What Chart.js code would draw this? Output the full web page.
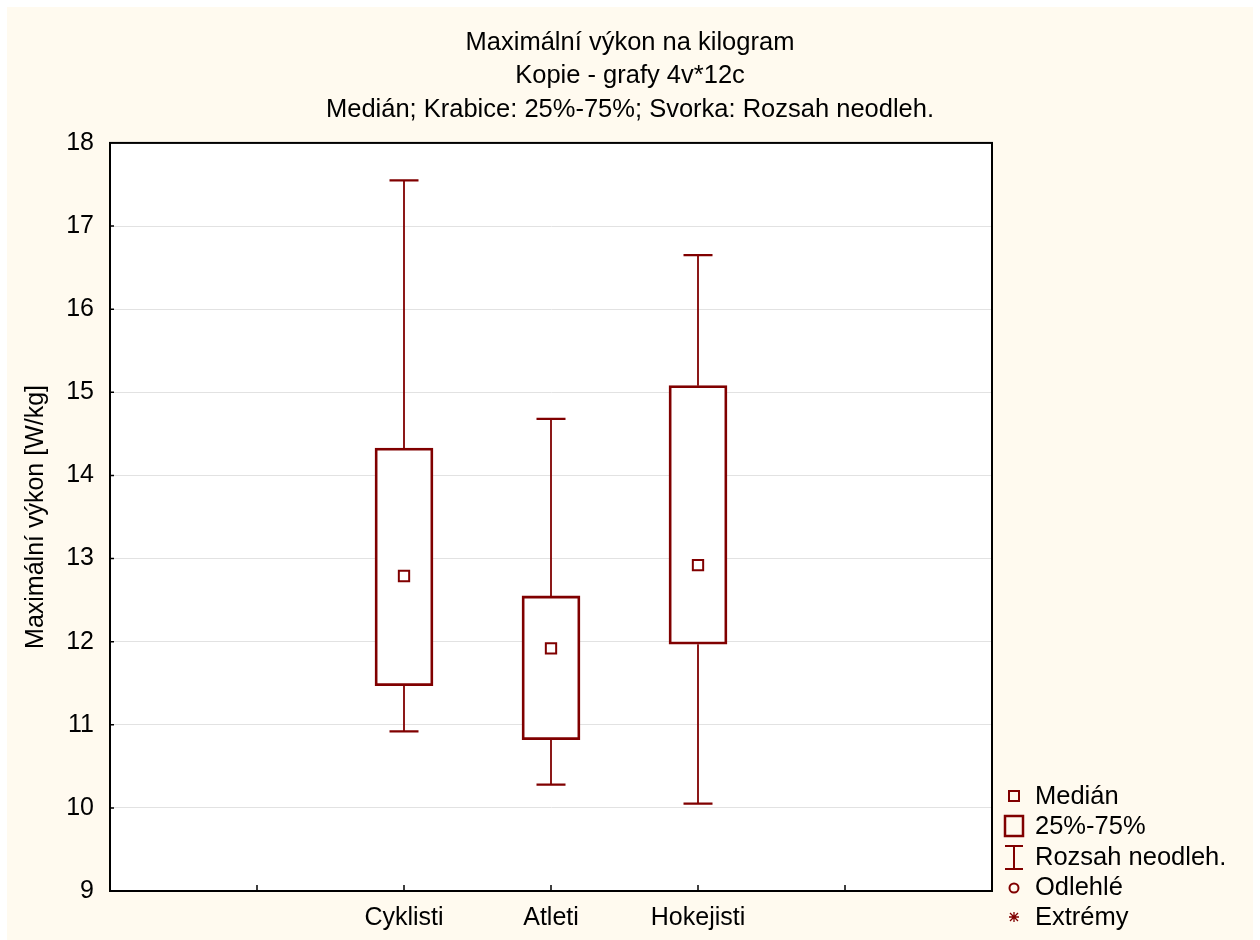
<!DOCTYPE html>
<html>
<head>
<meta charset="utf-8">
<script src="https://cdn.jsdelivr.net/npm/chart.js@4/dist/chart.umd.min.js"></script>
<style>
  html, body { margin: 0; padding: 0; background: #ffffff; }
  canvas { display: block; }
</style>
</head>
<body>
<canvas id="c" width="1260" height="940"></canvas>
<script>
// ---- data ----
const tickLabels = ['', '', 'Cyklisti', 'Atleti', 'Hokejisti', '', ''];
const categories = ['Cyklisti', 'Atleti', 'Hokejisti'];
const whiskerMin = [10.92, 10.28, 10.05];
const q1 = [11.47, 10.82, 11.97];
const median = [12.79, 11.92, 12.92];
const q3 = [14.33, 12.55, 15.08];
const whiskerMax = [17.55, 14.68, 16.65];
const titleLines = ['Maximální výkon na kilogram', 'Kopie - grafy 4v*12c', 'Medián; Krabice: 25%-75%; Svorka: Rozsah neodleh.'];
const yTitle = 'Maximální výkon [W/kg]';
const legendItems = ['Medián', '25%-75%', 'Rozsah neodleh.', 'Odlehlé', 'Extrémy'];

const DARK = '#800000';
const FONT = "'Liberation Sans', Arial, Helvetica, sans-serif";

function alignToLabels(arr) {
  return tickLabels.map(l => {
    const i = categories.indexOf(l);
    return i >= 0 ? arr[i] : null;
  });
}
const boxData = tickLabels.map(l => {
  const i = categories.indexOf(l);
  return i >= 0 ? [q1[i], q3[i]] : null;
});

const bgPlugin = {
  id: 'bg',
  beforeDraw(chart) {
    const ctx = chart.ctx, a = chart.chartArea;
    ctx.save();
    ctx.fillStyle = '#ffffff';
    ctx.fillRect(0, 0, chart.width, chart.height);
    ctx.fillStyle = '#fffaef';
    ctx.fillRect(7, 7, chart.width - 14, chart.height - 7);
    ctx.fillStyle = '#ffffff';
    ctx.fillRect(a.left, a.top, a.right - a.left, a.bottom - a.top);
    ctx.restore();
  }
};

const whiskerPlugin = {
  id: 'whiskers',
  beforeDatasetsDraw(chart) {
    const ctx = chart.ctx;
    const meta = chart.getDatasetMeta(0);
    const y = chart.scales.y;
    ctx.save();
    ctx.strokeStyle = DARK;
    tickLabels.forEach((l, idx) => {
      const i = categories.indexOf(l);
      if (i < 0) return;
      const el = meta.data[idx];
      const x = el.x;
      const half = 14.5;
      const yMin = y.getPixelForValue(whiskerMin[i]);
      const yQ1 = y.getPixelForValue(q1[i]);
      const yQ3 = y.getPixelForValue(q3[i]);
      const yMax = y.getPixelForValue(whiskerMax[i]);
      ctx.lineWidth = 1.8;
      ctx.beginPath();
      ctx.moveTo(x, yQ1); ctx.lineTo(x, yMin);
      ctx.moveTo(x, yQ3); ctx.lineTo(x, yMax);
      ctx.stroke();
      ctx.lineWidth = 2.2;
      ctx.beginPath();
      ctx.moveTo(x - half, yMin); ctx.lineTo(x + half, yMin);
      ctx.moveTo(x - half, yMax); ctx.lineTo(x + half, yMax);
      ctx.stroke();
    });
    ctx.restore();
  },
  afterDraw(chart) {
    const ctx = chart.ctx, a = chart.chartArea;
    const xs = chart.scales.x, ys = chart.scales.y;
    ctx.save();
    ctx.strokeStyle = '#000000';
    ctx.lineWidth = 2;
    ctx.strokeRect(a.left, a.top, a.right - a.left, a.bottom - a.top);
    ctx.lineWidth = 1.5;
    ctx.beginPath();
    for (let k = 1; k < tickLabels.length - 1; k++) {
      const px = xs.getPixelForValue(k);
      ctx.moveTo(px, a.bottom); ctx.lineTo(px, a.bottom - 6);
    }
    for (let v = ys.min + 1; v < ys.max; v++) {
      const py = ys.getPixelForValue(v);
      ctx.moveTo(a.left, py); ctx.lineTo(a.left + 4, py);
    }
    ctx.stroke();

    // legend
    const ix = 1014, tx = 1035;
    const rows = [796, 826, 857, 887, 917];
    ctx.strokeStyle = DARK;
    ctx.fillStyle = '#ffffff';
    ctx.lineWidth = 2;
    ctx.strokeRect(ix - 5, rows[0] - 5, 10, 10);
    ctx.lineWidth = 2.5;
    ctx.strokeRect(ix - 9, rows[1] - 10, 18, 20);
    ctx.lineWidth = 2;
    ctx.beginPath();
    ctx.moveTo(ix, rows[2] - 11); ctx.lineTo(ix, rows[2] + 12);
    ctx.moveTo(ix - 9, rows[2] - 11); ctx.lineTo(ix + 9, rows[2] - 11);
    ctx.moveTo(ix - 9, rows[2] + 12); ctx.lineTo(ix + 9, rows[2] + 12);
    ctx.stroke();
    ctx.beginPath();
    ctx.arc(ix, rows[3] + 1, 4.5, 0, Math.PI * 2);
    ctx.stroke();
    ctx.lineWidth = 1.3;
    ctx.beginPath();
    ctx.moveTo(ix - 5, rows[4]); ctx.lineTo(ix + 5, rows[4]);
    ctx.moveTo(ix - 4, rows[4] - 4); ctx.lineTo(ix + 4, rows[4] + 4);
    ctx.moveTo(ix + 4, rows[4] - 4); ctx.lineTo(ix - 4, rows[4] + 4);
    ctx.moveTo(ix, rows[4] - 5); ctx.lineTo(ix, rows[4] + 5);
    ctx.stroke();
    ctx.fillStyle = '#000000';
    ctx.font = '25.5px ' + FONT;
    ctx.textAlign = 'left';
    ctx.textBaseline = 'middle';
    legendItems.forEach((t, k) => ctx.fillText(t, tx, rows[k] + 1));
    ctx.restore();
  }
};

new Chart(document.getElementById('c'), {
  type: 'bar',
  data: {
    labels: tickLabels,
    datasets: [
      {
        label: 'Box',
        data: boxData,
        backgroundColor: '#ffffff',
        borderColor: DARK,
        borderWidth: 2.8,
        borderSkipped: false,
        barThickness: 58,
        order: 2
      },
      {
        type: 'line',
        label: 'Medián',
        data: alignToLabels(median),
        showLine: false,
        pointStyle: 'rect',
        pointRadius: 7.3,
        pointBorderWidth: 2,
        pointBackgroundColor: '#ffffff',
        pointBorderColor: DARK,
        order: 1
      }
    ]
  },
  options: {
    responsive: false,
    animation: false,
    events: [],
    layout: { padding: { top: 0, left: 0, right: 0, bottom: 0 } },
    plugins: {
      legend: { display: false },
      tooltip: { enabled: false },
      title: {
        display: true,
        text: titleLines,
        color: '#000000',
        font: { family: FONT, size: 25.5, weight: 'normal', lineHeight: 1.31 },
        padding: { top: 26.3, bottom: 16.4 }
      }
    },
    scales: {
      x: {
        type: 'category',
        offset: false,
        grid: { display: false, drawTicks: false },
        border: { display: true, color: '#000000', width: 2 },
        ticks: {
          color: '#000000',
          font: { family: FONT, size: 25 },
          padding: 12,
          autoSkip: false,
          maxRotation: 0
        },
        afterFit(s) { s.height = 49; }
      },
      y: {
        min: 9,
        max: 18,
        ticks: {
          stepSize: 1,
          color: '#000000',
          font: { family: FONT, size: 25 },
          padding: 16
        },
        grid: { color: '#e2e2e2', lineWidth: 1, drawTicks: false },
        border: { display: true, color: '#000000', width: 2 },
        title: {
          display: true,
          text: yTitle,
          color: '#000000',
          font: { family: FONT, size: 25 },
          padding: { top: 21, bottom: 0 }
        },
        afterFit(s) { s.width = 110; }
      },
      y2: {
        type: 'linear',
        position: 'right',
        display: true,
        grid: { display: false, drawTicks: false },
        border: { display: false },
        ticks: { display: false },
        afterFit(s) { s.width = 268; }
      }
    }
  },
  plugins: [bgPlugin, whiskerPlugin]
});
</script>
</body>
</html>
